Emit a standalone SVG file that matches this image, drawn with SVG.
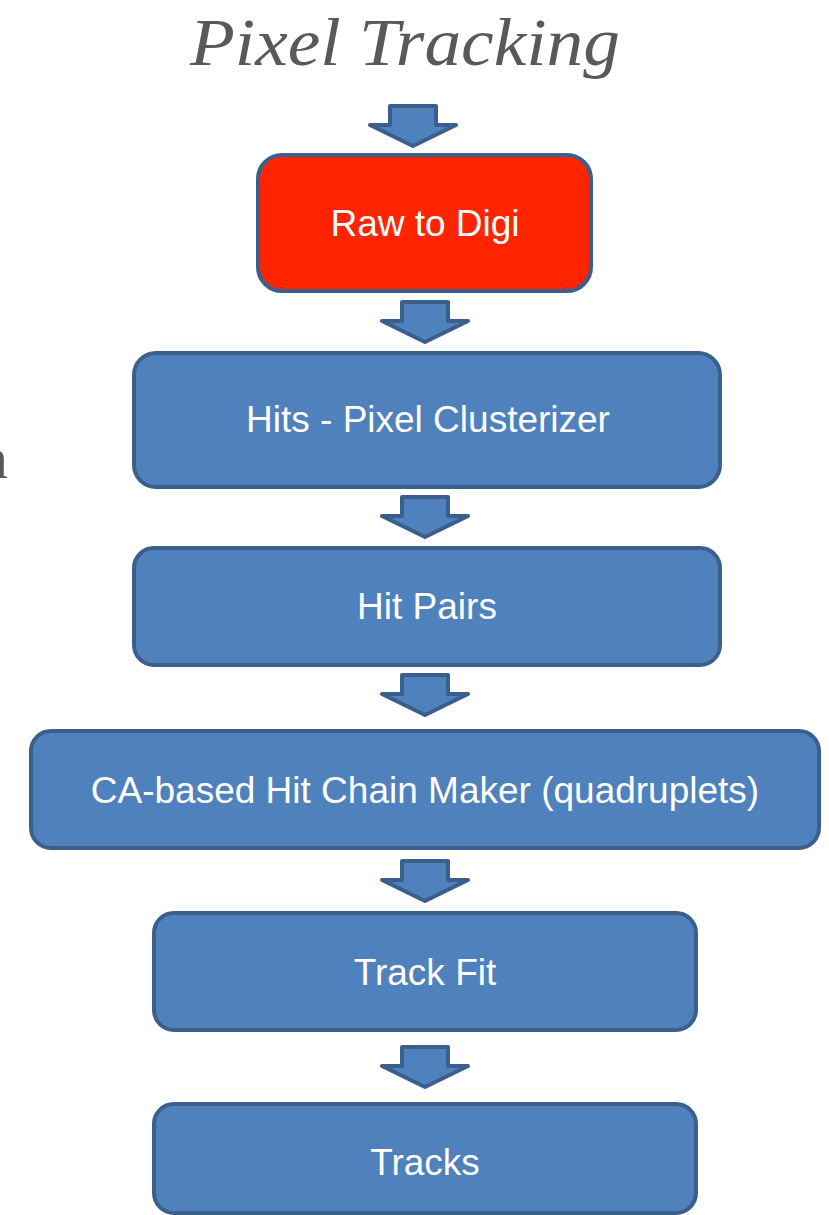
<svg xmlns="http://www.w3.org/2000/svg" width="829" height="1215" viewBox="0 0 829 1215">
<style>
.box{fill:#4f81bd;stroke:#3b5f8d;stroke-width:4}
.red{fill:#ff2400}
.arr{fill:#4f81bd;stroke:#3b5f8d;stroke-width:4;stroke-linejoin:round}
.lbl{font-family:"Liberation Sans",Arial,sans-serif;font-size:37px;fill:#ffffff;text-anchor:middle}
.title{font-family:"Liberation Serif","DejaVu Serif",serif;font-style:italic;fill:#595959}
.side{font-family:"Liberation Serif","DejaVu Serif",serif;font-style:normal;font-size:60px;fill:#595959}
</style>
<defs>
<path id="arrow" d="M-23,0 H23 V19 H43 L0,40 L-43,19 H-23 Z"/>
</defs>
<rect width="829" height="1215" fill="#ffffff"/>
<text class="title" x="405" y="65" font-size="68" text-anchor="middle" textLength="430" lengthAdjust="spacingAndGlyphs">Pixel Tracking</text>
<text class="side" x="-22" y="478">n</text>
<g id="connectors">
<use href="#arrow" class="arr" x="413" y="106"/>
<use href="#arrow" class="arr" x="425" y="302"/>
<use href="#arrow" class="arr" x="425" y="497"/>
<use href="#arrow" class="arr" x="425" y="675"/>
<use href="#arrow" class="arr" x="425" y="861"/>
<use href="#arrow" class="arr" x="425" y="1047"/>
</g>
<g id="raw-to-digi">
<rect class="box red" x="258" y="155" width="333" height="136" rx="24"/>
<text class="lbl" x="425" y="236">Raw to Digi</text>
</g>
<g id="hits-pixel-clusterizer">
<rect class="box" x="134" y="353" width="586" height="134" rx="22"/>
<text class="lbl" x="428" y="432">Hits - Pixel Clusterizer</text>
</g>
<g id="hit-pairs">
<rect class="box" x="134" y="548" width="586" height="117" rx="20"/>
<text class="lbl" x="427" y="619">Hit Pairs</text>
</g>
<g id="ca-hit-chain-maker">
<rect class="box" x="31" y="731" width="788" height="117" rx="20"/>
<text class="lbl" x="425" y="803">CA-based Hit Chain Maker (quadruplets)</text>
</g>
<g id="track-fit">
<rect class="box" x="154" y="913" width="542" height="117" rx="20"/>
<text class="lbl" x="425" y="985">Track Fit</text>
</g>
<g id="tracks">
<rect class="box" x="154" y="1104" width="542" height="109" rx="20"/>
<text class="lbl" x="425" y="1175">Tracks</text>
</g>
</svg>
